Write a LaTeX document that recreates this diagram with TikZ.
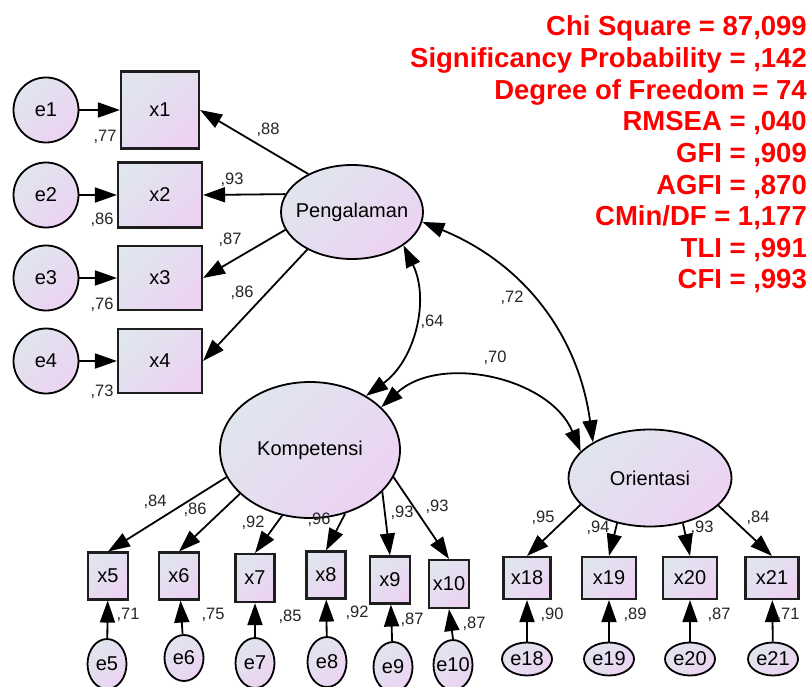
\documentclass[tikz,border=0pt]{standalone}
\usepackage{fontspec}
\setmainfont{Liberation Sans}
\usetikzlibrary{arrows.meta,shapes.geometric}
\definecolor{cA}{HTML}{E0E5EE}
\definecolor{cB}{HTML}{ECD3F2}
\definecolor{bd}{HTML}{1E1E1E}
\definecolor{statred}{HTML}{FF0000}
\tikzset{
  fillc/.style={top color=cA, bottom color=cB, shading angle=45},
  lbl/.style={font=\fontsize{20}{24}\selectfont, text=black},
  obsbox/.style={rectangle, draw=bd, line width=2.1pt, inner sep=0pt, fillc, lbl},
  latent/.style={ellipse, draw=black, line width=1.8pt, inner sep=0pt, fillc},
  errnode/.style={ellipse, draw=black, line width=1.8pt, inner sep=0pt, fillc},
  arr/.style={line width=1.8pt, draw=black, -{Triangle[length=22pt,width=15pt]}},
  biarr/.style={line width=1.8pt, draw=black, {Triangle[length=22pt,width=15pt]}-{Triangle[length=22pt,width=15pt]}},
  coef/.style={font=\fontsize{16.5}{18}\selectfont, text=black!85, inner sep=0pt},
  stat/.style={font=\fontsize{27.5}{31}\selectfont\bfseries, text=statred, anchor=base east, inner sep=0pt},
}
\begin{document}
\begin{tikzpicture}[x=1pt,y=1pt]
\useasboundingbox (0,0) rectangle (810,-687);
\fill[white] (0,0) rectangle (810,-687);

% fit statistics
\node[stat] (s1) at (807,-36) {Chi Square = 87,099};
\node[stat] (s2) at (807,-67.6) {Significancy Probability = ,142};
\node[stat] (s3) at (807,-99.2) {Degree of Freedom = 74};
\node[stat] (s4) at (807,-130.8) {RMSEA = ,040};
\node[stat] (s5) at (807,-162.4) {GFI = ,909};
\node[stat] (s6) at (807,-194) {AGFI = ,870};
\node[stat] (s7) at (807,-225.6) {CMin/DF = 1,177};
\node[stat] (s8) at (807,-257.2) {TLI = ,991};
\node[stat] (s9) at (807,-288.8) {CFI = ,993};

% latent variables
\node[latent, minimum width=142pt, minimum height=94pt, label={[lbl]center:Pengalaman}] (peng) at (352,-212) {};
\node[latent, minimum width=180pt, minimum height=136pt, label={[lbl]center:Kompetensi}] (komp) at (310,-450) {};
\node[latent, minimum width=163pt, minimum height=97pt, label={[lbl]center:Orientasi}] (orient) at (650,-478) {};

% left indicators
\node[obsbox, minimum width=78pt, minimum height=77pt] (x1) at (160,-110) {x1};
\node[obsbox, minimum width=84pt, minimum height=65pt] (x2) at (160,-195) {x2};
\node[obsbox, minimum width=84pt, minimum height=64pt] (x3) at (160,-278) {x3};
\node[obsbox, minimum width=84pt, minimum height=64pt] (x4) at (160,-361) {x4};

\node[errnode, minimum width=65pt, minimum height=65pt, label={[lbl]center:e1}] (e1) at (46,-110) {};
\node[errnode, minimum width=65pt, minimum height=65pt, label={[lbl]center:e2}] (e2) at (46,-195) {};
\node[errnode, minimum width=65pt, minimum height=65pt, label={[lbl]center:e3}] (e3) at (46,-278) {};
\node[errnode, minimum width=65pt, minimum height=65pt, label={[lbl]center:e4}] (e4) at (46,-361) {};

% Kompetensi indicators
\node[obsbox, minimum width=40pt, minimum height=47pt] (x5) at (108,-576) {x5};
\node[obsbox, minimum width=40pt, minimum height=47pt] (x6) at (179,-576) {x6};
\node[obsbox, minimum width=39pt, minimum height=48pt] (x7) at (255,-578) {x7};
\node[obsbox, minimum width=39pt, minimum height=47pt] (x8) at (326,-575) {x8};
\node[obsbox, minimum width=40pt, minimum height=47pt] (x9) at (390,-580) {x9};
\node[obsbox, minimum width=40pt, minimum height=48pt] (x10) at (449,-584) {x10};

\node[errnode, minimum width=39pt, minimum height=50pt, label={[lbl]center:e5}] (e5) at (107,-664) {};
\node[errnode, minimum width=39pt, minimum height=46pt, label={[lbl]center:e6}] (e6) at (184,-658) {};
\node[errnode, minimum width=39pt, minimum height=50pt, label={[lbl]center:e7}] (e7) at (255,-663) {};
\node[errnode, minimum width=39pt, minimum height=50pt, label={[lbl]center:e8}] (e8) at (327,-662) {};
\node[errnode, minimum width=39pt, minimum height=50pt, label={[lbl]center:e9}] (e9) at (393,-667) {};
\node[errnode, minimum width=39pt, minimum height=50pt, label={[lbl]center:e10}] (e10) at (453,-665) {};

% Orientasi indicators
\node[obsbox, minimum width=47pt, minimum height=42pt] (x18) at (527,-578) {x18};
\node[obsbox, minimum width=54pt, minimum height=42pt] (x19) at (609,-578) {x19};
\node[obsbox, minimum width=54pt, minimum height=42pt] (x20) at (690,-578) {x20};
\node[obsbox, minimum width=53pt, minimum height=42pt] (x21) at (772,-578) {x21};

\node[errnode, minimum width=50pt, minimum height=33pt, label={[lbl]center:e18}] (e18) at (527,-659) {};
\node[errnode, minimum width=50pt, minimum height=33pt, label={[lbl]center:e19}] (e19) at (609,-659) {};
\node[errnode, minimum width=50pt, minimum height=33pt, label={[lbl]center:e20}] (e20) at (690,-659) {};
\node[errnode, minimum width=50pt, minimum height=33pt, label={[lbl]center:e21}] (e21) at (773,-659) {};

% error arrows
\draw[arr] (e1) -- (x1);
\draw[arr] (e2) -- (x2);
\draw[arr] (e3) -- (x3);
\draw[arr] (e4) -- (x4);
\draw[arr] (e5) -- (x5);
\draw[arr] (e6) -- (x6);
\draw[arr] (e7) -- (x7);
\draw[arr] (e8) -- (x8);
\draw[arr] (e9) -- (x9);
\draw[arr] (e10.north) -- (x10.south);
\draw[arr] (e18) -- (x18);
\draw[arr] (e19) -- (x19);
\draw[arr] (e20) -- (x20);
\draw[arr] (e21) -- (x21);

% loadings
\draw[arr] (peng.139) -- (x1.east);
\draw[arr] (peng.165) -- (x2.east);
\draw[arr] (peng.195) -- (x3.east);
\draw[arr] (peng.220) -- (x4.east);

\draw[arr] (komp.198) -- (x5.north);
\draw[arr] (komp.212) -- (x6.north);
\draw[arr] (komp.247) -- (x7.north);
\draw[arr] (komp.299) -- (x8.north);
\draw[arr] (komp.330) -- (x9.north);
\draw[arr] (komp.342) -- (x10.north);

\draw[arr] (orient.201) -- (x18.north);
\draw[arr] (orient.234) -- (x19.north);
\draw[arr] (orient.306) -- (x20.north);
\draw[arr] (orient.338) -- (x21.north);

% covariances
\draw[biarr] (peng.-33) to[bend left=40] (komp.44);
\draw[biarr] (peng.-8) to[bend left=30] (orient.148);
\draw[biarr] (komp.31) to[bend left=55] (orient.159);

% coefficient labels
\node[coef] (c1) at (268,-130) {,88};
\node[coef] (c2) at (232,-180) {,93};
\node[coef] (c3) at (230,-240) {,87};
\node[coef] (c4) at (242,-293) {,86};
\node[coef] (r1) at (105,-137) {,77};
\node[coef] (r2) at (102,-220) {,86};
\node[coef] (r3) at (102,-305) {,76};
\node[coef] (r4) at (102,-392) {,73};

\node[coef] (c64) at (432,-322) {,64};
\node[coef] (c72) at (512,-298) {,72};
\node[coef] (c70) at (495,-358) {,70};

\node[coef] (c5) at (155,-502) {,84};
\node[coef] (c6) at (195,-510) {,86};
\node[coef] (c7) at (253,-523) {,92};
\node[coef] (c8) at (319,-520) {,96};
\node[coef] (c9) at (402,-513) {,93};
\node[coef] (c10) at (437,-507) {,93};

\node[coef] (r5) at (128,-615) {,71};
\node[coef] (r6) at (213,-615) {,75};
\node[coef] (r7) at (290,-617) {,85};
\node[coef] (r8) at (357,-613) {,92};
\node[coef] (r9) at (412,-620) {,87};
\node[coef] (r10) at (474,-624) {,87};

\node[coef] (c18) at (543,-518) {,95};
\node[coef] (c19) at (598,-528) {,94};
\node[coef] (c20) at (702,-528) {,93};
\node[coef] (c21) at (758,-518) {,84};

\node[coef] (r18) at (552,-615) {,90};
\node[coef] (r19) at (635,-615) {,89};
\node[coef] (r20) at (719,-615) {,87};
\node[coef] (r21) at (788,-615) {,71};
\end{tikzpicture}
\end{document}
